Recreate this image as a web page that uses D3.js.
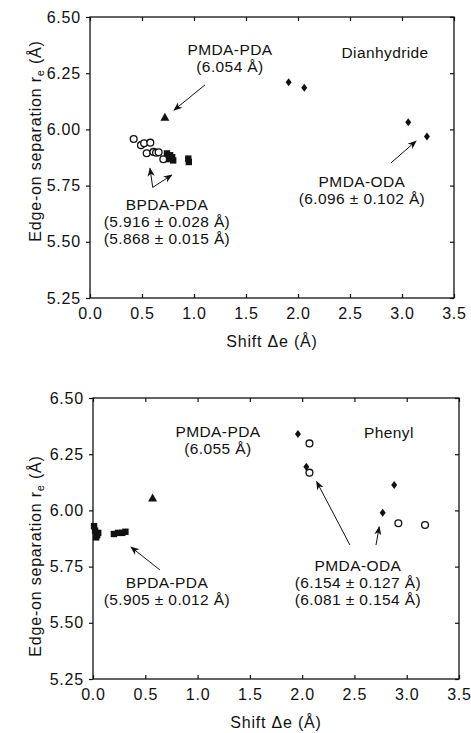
<!DOCTYPE html>
<html>
<head>
<meta charset="utf-8">
<script src="https://cdn.jsdelivr.net/npm/d3@7"></script>
<style>
  body { margin: 0; background: #fff; }
  svg text { font-family: "Liberation Sans", Arial, Helvetica, sans-serif; fill: #111; }
  .tick-label { font-size: 16px; letter-spacing: 0.8px; }
  .axis-title { font-size: 16px; letter-spacing: 0.8px; }
  .note { font-size: 15.5px; letter-spacing: 0.4px; }
</style>
</head>
<body>
<svg></svg>
<script>
let svgWidth = 471
let svgHeight = 733

// axis ticks
const xTicks = [0.0, 0.5, 1.0, 1.5, 2.0, 2.5, 3.0, 3.5]
const yTicks = [5.25, 5.50, 5.75, 6.00, 6.25, 6.50]

// upper panel: dianhydride
const dianCircles = [[0.42, 5.957], [0.49, 5.930], [0.52, 5.938], [0.58, 5.941], [0.545, 5.894], [0.61, 5.900], [0.635, 5.896], [0.66, 5.898], [0.705, 5.867]]
const dianSquares = [[0.74, 5.893], [0.77, 5.885], [0.79, 5.876], [0.80, 5.862], [0.76, 5.868], [0.945, 5.870], [0.95, 5.855]]
const dianTriangles = [[0.72, 6.054]]
const dianDiamonds = [[1.91, 6.210], [2.06, 6.185], [3.06, 6.032], [3.24, 5.968]]

// lower panel: phenyl
const phenSquares = [[0.01, 5.930], [0.02, 5.910], [0.04, 5.890], [0.05, 5.900], [0.03, 5.880], [0.20, 5.895], [0.24, 5.900], [0.28, 5.900], [0.31, 5.905]]
const phenTriangles = [[0.57, 6.055]]
const phenDiamonds = [[1.96, 6.340], [2.04, 6.194], [2.88, 6.113], [2.77, 5.990]]
const phenCircles = [[2.07, 6.298], [2.07, 6.168], [2.92, 5.943], [3.175, 5.935]]

// annotation text (anchored in data units) and arrows [x1,y1,x2,y2]
const dianNotes = [
    {x: 1.346, y: 6.331, lines: ['PMDA-PDA', '(6.054 Å)']},
    {x: 2.837, y: 6.318, lines: ['Dianhydride']},
    {x: 2.615, y: 5.744, lines: ['PMDA-ODA', '(6.096 ± 0.102 Å)']},
    {x: 0.740, y: 5.641, lines: ['BPDA-PDA', '(5.916 ± 0.028 Å)', '(5.868 ± 0.015 Å)']}
]
const dianArrows = [[1.106, 6.198, 0.808, 6.086], [2.894, 5.851, 3.135, 5.948], [0.603, 5.742, 0.577, 5.827], [0.603, 5.742, 0.786, 5.797]]

const phenNotes = [
    {x: 1.195, y: 6.327, lines: ['PMDA-PDA', '(6.055 Å)']},
    {x: 2.830, y: 6.322, lines: ['Phenyl']},
    {x: 0.707, y: 5.655, lines: ['BPDA-PDA', '(5.905 ± 0.012 Å)']},
    {x: 2.533, y: 5.730, lines: ['PMDA-ODA', '(6.154 ± 0.127 Å)', '(6.081 ± 0.154 Å)']}
]
const phenArrows = [[0.64, 5.735, 0.363, 5.837], [2.457, 5.846, 2.139, 6.128], [2.706, 5.846, 2.737, 5.927]]

let svg = d3.select('svg')
    .attr('width', svgWidth)
    .attr('height', svgHeight)

svg.append('defs').append('marker')
    .attr('id', 'head')
    .attr('viewBox', '0 0 10 10')
    .attr('refX', 9).attr('refY', 5)
    .attr('markerWidth', 9).attr('markerHeight', 9)
    .attr('markerUnits', 'userSpaceOnUse')
    .attr('orient', 'auto')
    .append('path')
    .attr('d', 'M0,1 L10,5 L0,9 L3,5 Z')
    .attr('fill', '#111')

drawPanel({left: 90, right: 454, top: 17, bottom: 298, titleY: 141, xTitle: 347},
    {circles: dianCircles, squares: dianSquares, triangles: dianTriangles, diamonds: dianDiamonds},
    dianNotes, dianArrows)

drawPanel({left: 93, right: 459, top: 398, bottom: 679, titleY: 556, xTitle: 728},
    {circles: phenCircles, squares: phenSquares, triangles: phenTriangles, diamonds: phenDiamonds},
    phenNotes, phenArrows)

function drawPanel(box, series, notes, arrows){
    const x = d3.scaleLinear().domain([0, 3.5]).range([box.left, box.right])
    const y = d3.scaleLinear().domain([5.25, 6.5]).range([box.bottom, box.top])
    const g = svg.append('g')

    // frame
    g.append('rect')
        .attr('x', box.left).attr('y', box.top)
        .attr('width', box.right - box.left).attr('height', box.bottom - box.top)
        .attr('fill', 'none').attr('stroke', '#111').attr('stroke-width', 1.3)

    // bottom axis, ticks point inward
    g.append('g')
        .attr('transform', `translate(0,${box.bottom})`)
        .call(d3.axisBottom(x).tickValues(xTicks).tickFormat(d3.format('.1f')).tickSizeInner(-4).tickSizeOuter(0).tickPadding(10))
    g.append('g')
        .attr('transform', `translate(0,${box.top})`)
        .call(d3.axisTop(x).tickValues(xTicks).tickFormat('').tickSizeInner(-4).tickSizeOuter(0))
    // left axis, ticks outward
    g.append('g')
        .attr('transform', `translate(${box.left},0)`)
        .call(d3.axisLeft(y).tickValues(yTicks).tickFormat(d3.format('.2f')).tickSizeInner(4).tickSizeOuter(0).tickPadding(5))
    g.append('g')
        .attr('transform', `translate(${box.right},0)`)
        .call(d3.axisRight(y).tickValues(yTicks).tickFormat('').tickSizeInner(-4).tickSizeOuter(0))

    g.selectAll('.domain').remove()
    g.selectAll('.tick line').attr('stroke', '#111').attr('stroke-width', 1.2)
    g.selectAll('.tick text')
        .attr('class', 'tick-label')
        .attr('font-size', null).attr('font-family', null)
        .attr('fill', '#111')

    // axis titles
    g.append('text')
        .attr('class', 'axis-title')
        .attr('x', (box.left + box.right) / 2)
        .attr('y', box.xTitle)
        .attr('text-anchor', 'middle')
        .text('Shift Δe (Å)')

    let yt = g.append('text')
        .attr('class', 'axis-title')
        .attr('transform', `translate(41,${box.titleY}) rotate(-90)`)
        .attr('text-anchor', 'middle')
    yt.append('tspan').text('Edge-on separation r')
    yt.append('tspan').attr('dy', 3).attr('font-size', '11px').text('e')
    yt.append('tspan').attr('dy', -3).text(' (Å)')

    // markers
    g.selectAll('circle.open').data(series.circles)
        .enter().append('circle')
        .attr('class', 'open')
        .attr('cx', d => x(d[0]))
        .attr('cy', d => y(d[1]))
        .attr('r', 3.4)
        .attr('fill', '#fff').attr('stroke', '#111').attr('stroke-width', 1.3)

    g.selectAll('rect.sq').data(series.squares)
        .enter().append('rect')
        .attr('class', 'sq')
        .attr('x', d => x(d[0]) - 3.2)
        .attr('y', d => y(d[1]) - 3.2)
        .attr('width', 6.4).attr('height', 6.4)
        .attr('fill', '#111')

    g.selectAll('path.tri').data(series.triangles)
        .enter().append('path')
        .attr('class', 'tri')
        .attr('transform', d => `translate(${x(d[0])},${y(d[1])})`)
        .attr('d', 'M0,-4.5 L4.5,3.5 L-4.5,3.5 Z')
        .attr('fill', '#111')

    g.selectAll('path.dia').data(series.diamonds)
        .enter().append('path')
        .attr('class', 'dia')
        .attr('transform', d => `translate(${x(d[0])},${y(d[1])})`)
        .attr('d', 'M0,-4 L3,0 L0,4 L-3,0 Z')
        .attr('fill', '#111')

    // notes
    notes.forEach(function(n){
        let t = g.append('text')
            .attr('class', 'note')
            .attr('text-anchor', 'middle')
            .attr('x', x(n.x))
            .attr('y', y(n.y))
        n.lines.forEach(function(line, i){
            t.append('tspan')
                .attr('x', x(n.x))
                .attr('dy', i == 0 ? 0 : 17)
                .text(line)
        })
    })

    g.selectAll('line.arrow').data(arrows)
        .enter().append('line')
        .attr('class', 'arrow')
        .attr('x1', d => x(d[0])).attr('y1', d => y(d[1]))
        .attr('x2', d => x(d[2])).attr('y2', d => y(d[3]))
        .attr('stroke', '#111').attr('stroke-width', 1)
        .attr('marker-end', 'url(#head)')
}
</script>
</body>
</html>
